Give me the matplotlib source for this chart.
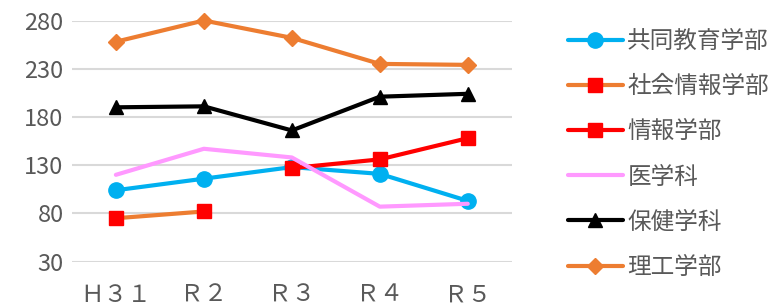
import numpy as np
import matplotlib
matplotlib.use("Agg")
import matplotlib.pyplot as plt

plt.rcParams['font.family'] = ['Noto Sans CJK JP', 'DejaVu Sans']

years = ['Ｈ３１', 'Ｒ２', 'Ｒ３', 'Ｒ４', 'Ｒ５']
kyodo = [104, 116, 128, 121, 93]
shakai = [75, 82, np.nan, np.nan, np.nan]
joho = [np.nan, np.nan, 127, 136, 158]
igaku = [120, 147, 138, 87, 90]
hoken = [190, 191, 166, 201, 204]
riko = [258, 280, 262, 235, 234]

series = [
    ('共同教育学部', kyodo, dict(color='#00B0F0', marker='o', ms=11)),
    ('社会情報学部', shakai, dict(color='#ED7D31', marker='s', ms=10.5, mfc='#FF0000', mec='#FF0000')),
    ('情報学部', joho, dict(color='#FF0000', marker='s', ms=10.5)),
    ('医学科', igaku, dict(color='#FF99FF', marker=None)),
    ('保健学科', hoken, dict(color='#000000', marker='^', ms=10.5)),
    ('理工学部', riko, dict(color='#ED7D31', marker='D', ms=8.5)),
]

fig = plt.figure(figsize=(7.73, 3.06), dpi=100)
ax = fig.add_axes([0.093, 0.145, 0.569, 0.788])
x = np.arange(len(years))
for name, vals, st in series:
    ax.plot(x, vals, lw=3, label=name, clip_on=False, solid_capstyle='round', **st)

ax.set_xlim(-0.5, len(years) - 0.5)
ax.set_ylim(30, 280)
ax.set_yticks([30, 80, 130, 180, 230, 280])
ax.set_xticks(x)
ax.set_xticklabels(years)
ax.grid(axis='y', color='#D9D9D9', lw=1.5)
ax.set_axisbelow(True)
for s in ax.spines.values():
    s.set_visible(False)
ax.tick_params(length=0, labelsize=17, colors='#595959')
ax.tick_params(axis='x', pad=16)
ax.tick_params(axis='y', pad=6)

fig.legend(loc='upper left', bbox_to_anchor=(0.723, 0.933), frameon=False,
           fontsize=17, handlelength=2.3, handletextpad=0.2, labelspacing=0.94,
           labelcolor='#595959', borderaxespad=0)

fig.savefig('out.png', dpi=100)
